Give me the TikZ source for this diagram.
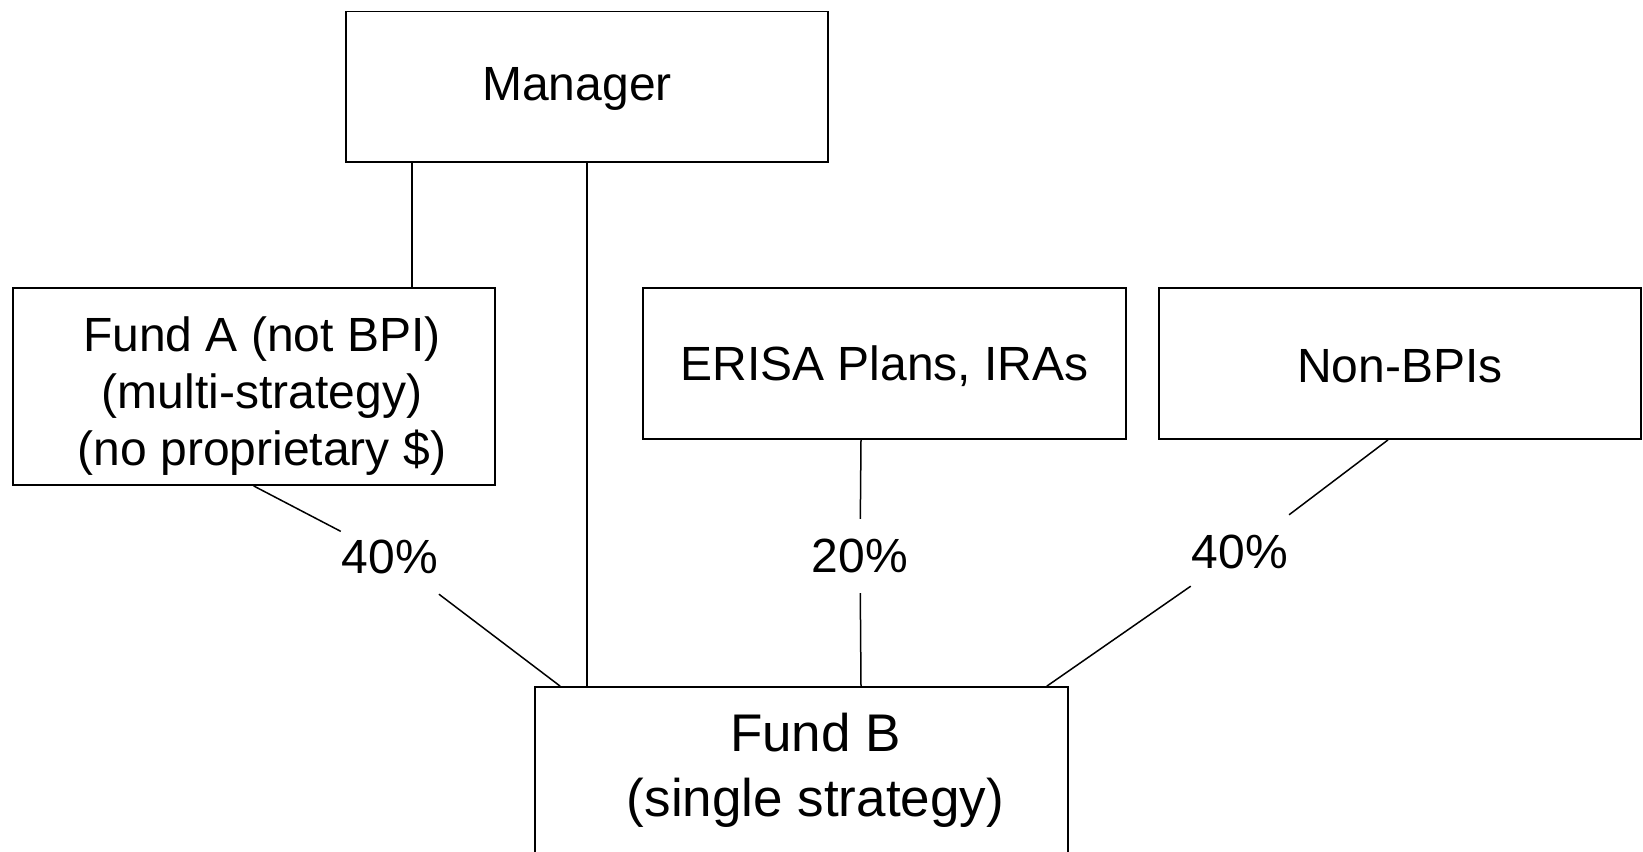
\documentclass[tikz,border=0pt]{standalone}
\usepackage{fontspec}
\setmainfont{Liberation Sans}
\begin{document}
\begin{tikzpicture}[x=1pt,y=-1pt,
  box/.style={draw=black,line width=1.8pt,rectangle,inner sep=0pt},
  txt/.style={inner sep=0pt,align=center,font=\fontsize{48}{57}\selectfont},
  pct/.style={inner xsep=1pt,inner ysep=20pt,font=\fontsize{48}{56}\selectfont},
  conn/.style={line width=1.5pt,draw=black}]
\useasboundingbox (0,0) rectangle (1643,851);
\clip (0,0) rectangle (1643,851);
\fill[white] (0,0) rectangle (1643,851);
\node[box,minimum width=482pt,minimum height=150.5pt] (mgr) at (587,86.75) {};
\node[txt] (mgrtext) at (577,89) {Manager};
\node[box,minimum width=482pt,minimum height=197pt] (funda) at (253.6,386.5) {};
\node[txt] (fundatext) at (262,396) {Fund A (not BPI)\\(multi-strategy)\\(no proprietary \$)};
\node[box,minimum width=483pt,minimum height=151pt] (erisa) at (884.5,363.5) {};
\node[txt] (erisatext) at (884.5,366) {ERISA Plans, IRAs};
\node[box,minimum width=482pt,minimum height=151pt] (nonbpi) at (1400,363.5) {};
\node[txt] (nonbpitext) at (1400,366) {Non-BPIs};
\node[box,minimum width=533pt,minimum height=200pt] (fundb) at (801.5,787) {};
\node[txt,font=\fontsize{53}{65}\selectfont] (fundbtext) at (815.5,770)
  {Fund B\\(single strategy)};
\node[pct] (l1) at (390,557) {40\%};
\node[pct] (l2) at (860,556) {20\%};
\node[pct] (l3) at (1240,552) {40\%};
\draw[conn] ([xshift=-175pt]mgr.south) -- ([xshift=-175pt]mgr.south |- funda.north);
\draw[conn] (mgr.south) -- (mgr.south |- fundb.north);
\draw[conn] (funda.south) -- (l1) -- ([xshift=26pt]fundb.north west);
\draw[conn] ([xshift=-23.5pt]erisa.south) -- (l2) -- ([xshift=-23.5pt]erisa.south |- fundb.north);
\draw[conn] ([xshift=-12pt]nonbpi.south) -- (l3) -- ([xshift=-22pt]fundb.north east);
\end{tikzpicture}
\end{document}
